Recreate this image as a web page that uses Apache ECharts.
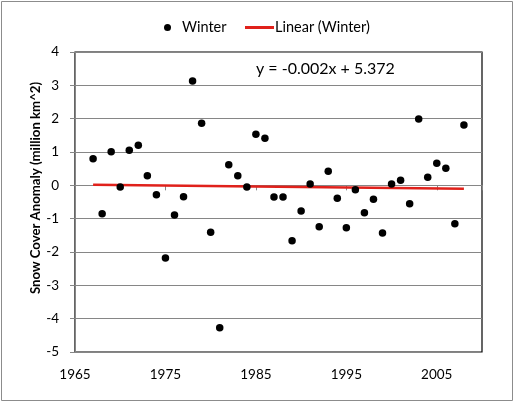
<!DOCTYPE html>
<html>
<head>
<meta charset="utf-8">
<script src="https://cdn.jsdelivr.net/npm/echarts@6/dist/echarts.min.js"></script>
<style>
html,body{margin:0;padding:0;background:#fff;}
#c{width:515px;height:403px;}
</style>
</head>
<body>
<div id="c"></div>
<script>
const years = [1967,1968,1969,1970,1971,1972,1973,1974,1975,1976,1977,1978,1979,1980,1981,1982,1983,1984,1985,1986,1987,1988,1989,1990,1991,1992,1993,1994,1995,1996,1997,1998,1999,2000,2001,2002,2003,2004,2005,2006,2007,2008];
const winter = [0.80,-0.85,1.01,-0.05,1.05,1.20,0.29,-0.28,-2.18,-0.89,-0.34,3.13,1.86,-1.41,-4.27,0.62,0.29,-0.05,1.53,1.41,-0.35,-0.35,-1.66,-0.77,0.04,-1.24,0.42,-0.39,-1.27,-0.13,-0.82,-0.42,-1.43,0.04,0.15,-0.55,1.99,0.24,0.66,0.51,-1.15,1.81];
const trendYears = [1967, 2008];
const trendValues = [0.02, -0.10];
const xTicks = [1965, 1975, 1985, 1995, 2005];
const equationText = 'y = -0.002x + 5.372';
const yTitle = 'Snow Cover Anomaly (million km^2)';

const FONT = 'Lato';
const chart = echarts.init(document.getElementById('c'), null, {renderer:'canvas'});
chart.setOption({
  animation: false,
  backgroundColor: '#fff',
  textStyle: {fontFamily: FONT, color: '#000'},
  grid: {left: 75, top: 52, right: 33, bottom: 51, show: true, borderColor: '#000', borderWidth: 1.2, backgroundColor: 'transparent'},
  legend: [
    {data: [{name: 'Winter', icon: 'circle'}], left: 159, top: 15, itemWidth: 7, itemHeight: 7, itemGap: 0,
     textStyle: {fontFamily: FONT, fontSize: 14.5, color: '#000', padding: [0,0,0,6]}},
    {data: [{name: 'Linear (Winter)', icon: 'rect'}], left: 240, top: 15, itemWidth: 29, itemHeight: 3, itemGap: 0,
     textStyle: {fontFamily: FONT, fontSize: 14.5, color: '#000', padding: [0,0,0,-4]}}
  ],
  xAxis: {
    type: 'value', min: 1965, max: 2010, interval: 10,
    axisLine: {show: true, lineStyle: {color: '#868686', width: 1}},
    axisTick: {show: true, length: 5, lineStyle: {color: '#868686'}},
    splitLine: {show: false},
    axisLabel: {margin: 16, fontSize: 13.5, color: '#000', fontFamily: FONT,
      formatter: v => xTicks.indexOf(v) >= 0 ? String(v) : ''}
  },
  yAxis: {
    type: 'value', min: -5, max: 4, interval: 1,
    axisLine: {show: true, lineStyle: {color: '#868686', width: 1}},
    axisTick: {show: true, length: 5, lineStyle: {color: '#868686'}},
    splitLine: {show: true, lineStyle: {color: '#868686', width: 1}},
    axisLabel: {margin: 16, fontSize: 13.5, color: '#000', fontFamily: FONT}
  },
  graphic: [
    {type: 'rect', shape: {x: 1.5, y: 1.5, width: 511, height: 399}, style: {fill: 'none', stroke: '#8c8c8c', lineWidth: 1}, silent: true, z: 100},
    {type: 'text', left: 256, top: 61, style: {text: equationText, fontFamily: FONT, fontSize: 16, fill: '#000'}, z: 100},
    {type: 'text', x: 36, y: 188, rotation: Math.PI / 2,
     style: {text: yTitle, fontFamily: FONT, fontSize: 13.2, fontWeight: 'bold', fill: '#000', align: 'center', verticalAlign: 'middle'}, z: 100}
  ],
  series: [
    {name: 'Winter', type: 'scatter', symbol: 'circle', symbolSize: 7.5,
     itemStyle: {color: '#000', opacity: 1}, data: years.map((y, i) => [y, winter[i]]), z: 3},
    {name: 'Linear (Winter)', type: 'line', showSymbol: false, symbol: 'none',
     lineStyle: {color: '#e0211b', width: 2.5}, itemStyle: {color: '#e0211b'},
     data: trendYears.map((y, i) => [y, trendValues[i]]), z: 2}
  ]
});
</script>
</body>
</html>
